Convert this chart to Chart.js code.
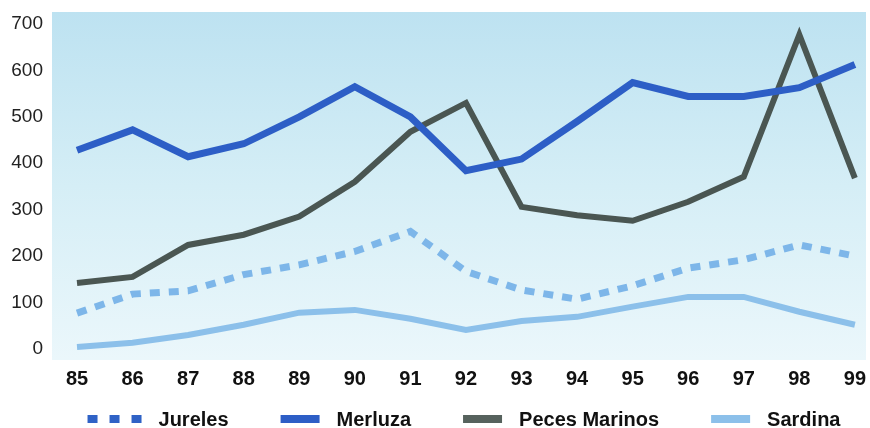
<!DOCTYPE html>
<html>
<head>
<meta charset="utf-8">
<script src="https://cdn.jsdelivr.net/npm/chart.js@4/dist/chart.umd.min.js"></script>
<style>
  html, body { margin: 0; padding: 0; background: #fff; }
  #wrap { width: 870px; height: 428px; }
</style>
</head>
<body>
<div id="wrap"><canvas id="chart" width="870" height="428"></canvas></div>
<script>
var years = [85, 86, 87, 88, 89, 90, 91, 92, 93, 94, 95, 96, 97, 98, 99];
var yTicks = [0, 100, 200, 300, 400, 500, 600, 700];

var jureles = [77, 118, 125, 160, 181, 210, 253, 167, 127, 107, 136, 174, 192, 224, 200];
var merluza = [428, 472, 414, 442, 500, 565, 500, 384, 409, 490, 574, 544, 544, 563, 613];
var pecesMarinos = [142, 155, 224, 246, 285, 360, 468, 530, 306, 288, 276, 317, 371, 677, 368];
var sardina = [4, 13, 30, 52, 78, 84, 65, 41, 60, 69, 91, 112, 112, 80, 52];

function pts(values) {
    return values.map((v, i) => ({ x: years[i], y: v }));
}

// light blue panel, fading downwards
const panelBg = {
    id: "panelBg",
    beforeDatasetsDraw(chart) {
        const { ctx, chartArea: a } = chart;
        const g = ctx.createLinearGradient(0, a.top, 0, a.bottom);
        g.addColorStop(0, "#bde2f1");
        g.addColorStop(0.5, "#d5eef6");
        g.addColorStop(1, "#ebf7fb");
        ctx.save();
        ctx.fillStyle = g;
        ctx.fillRect(a.left, a.top, a.right - a.left, a.bottom - a.top);
        ctx.restore();
    },
};

// legend drawn by hand so every sample can have its own length
const bottomLegend = {
    id: "bottomLegend",
    afterDraw(chart) {
        const ctx = chart.ctx;
        const sets = chart.data.datasets;
        const gap = 17, spacing = 52;
        ctx.save();
        ctx.font = "bold 20px 'Liberation Sans', Arial, sans-serif";
        ctx.textBaseline = "middle";
        let widths = sets.map((ds) => ds.legendLen + gap + ctx.measureText(ds.label).width);
        let total = widths.reduce((a, b) => a + b, 0) + spacing * (sets.length - 1);
        let x = (chart.width - total) / 2 + 29;
        const y = 419;
        sets.forEach((ds, i) => {
            ctx.beginPath();
            ctx.setLineDash(ds.borderDash ? [10, 12] : []);
            ctx.lineWidth = 8;
            ctx.lineCap = "butt";
            ctx.strokeStyle = ds.legendColor;
            ctx.moveTo(x, y);
            ctx.lineTo(x + ds.legendLen, y);
            ctx.stroke();
            ctx.setLineDash([]);
            ctx.fillStyle = "#111";
            ctx.fillText(ds.label, x + ds.legendLen + gap, y + 1);
            x += widths[i] + spacing;
        });
        ctx.restore();
    },
};

new Chart(document.getElementById("chart"), {
    type: "line",
    data: {
        datasets: [
            {
                label: "Jureles",
                data: pts(jureles),
                borderColor: "#7db6e9",
                borderWidth: 7,
                borderDash: [10, 9],
                legendColor: "#2f62c6",
                legendLen: 54,
            },
            {
                label: "Merluza",
                data: pts(merluza),
                borderColor: "#2d5ec6",
                borderWidth: 7,
                legendColor: "#2d5ec6",
                legendLen: 39,
            },
            {
                label: "Peces Marinos",
                data: pts(pecesMarinos),
                borderColor: "#4a5652",
                borderWidth: 6,
                legendColor: "#56625d",
                legendLen: 39,
            },
            {
                label: "Sardina",
                data: pts(sardina),
                borderColor: "#8cc0ea",
                borderWidth: 6,
                legendColor: "#8cc0ea",
                legendLen: 39,
            },
        ],
    },
    options: {
        responsive: false,
        animation: false,
        layout: { padding: { top: 12, right: 4, bottom: 38, left: 0 } },
        elements: {
            point: { radius: 0, hoverRadius: 0 },
            line: { tension: 0, borderJoinStyle: "miter", borderCapStyle: "butt" },
        },
        plugins: {
            legend: { display: false },
            tooltip: { enabled: false },
        },
        scales: {
            x: {
                type: "linear",
                min: 84.55,
                max: 99.2,
                grid: { display: false, drawTicks: false },
                border: { display: false },
                afterBuildTicks: (s) => { s.ticks = years.map((v) => ({ value: v })); },
                afterFit: (s) => {
                    s.height = 30;
                    s.paddingLeft = 0;
                    s.paddingRight = 0;
                },
                ticks: {
                    padding: 7,
                    color: "#111",
                    font: { size: 20, weight: "bold", family: "'Liberation Sans', Arial, sans-serif" },
                    callback: (v) => String(v),
                },
            },
            y: {
                min: -24,
                max: 726,
                grid: { display: false, drawTicks: false },
                border: { display: false },
                afterBuildTicks: (s) => { s.ticks = yTicks.map((v) => ({ value: v })); },
                afterFit: (s) => {
                    s.width = 52;
                    s.paddingTop = 0;
                    s.paddingBottom = 0;
                },
                ticks: {
                    padding: 9,
                    color: "#222",
                    font: { size: 19, family: "'Liberation Sans', Arial, sans-serif" },
                },
            },
        },
    },
    plugins: [panelBg, bottomLegend],
});
</script>
</body>
</html>
